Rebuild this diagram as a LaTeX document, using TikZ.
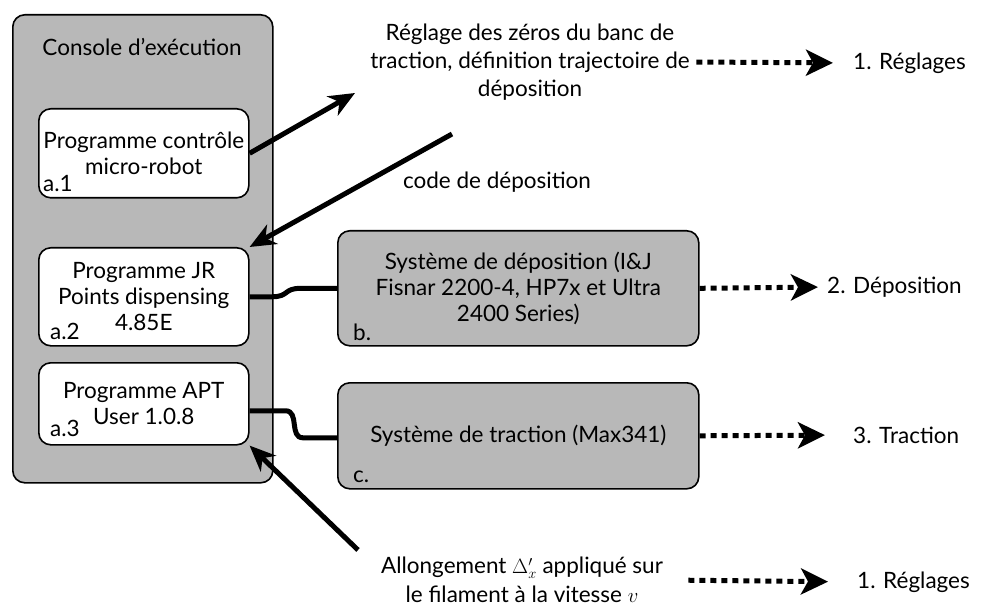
\documentclass[tikz,border=0pt]{standalone}
\usepackage{fontspec}
\setmainfont{Lato}
\usetikzlibrary{arrows.meta,positioning}
\definecolor{panelgray}{rgb}{0.72,0.72,0.72}

\begin{document}
\begin{tikzpicture}[x=1pt, y=-1pt, font=\fontsize{22.5}{26}\selectfont]
    \tikzstyle{panel}=[rectangle, rounded corners=12pt, draw=black, line width=1.6pt, fill=panelgray]
    \tikzstyle{prog}=[rectangle, rounded corners=12pt, draw=black, line width=1.6pt, fill=white, minimum width=210pt, align=center, inner sep=0pt]
    \tikzstyle{device}=[panel, minimum width=361pt, align=center]
    \tikzstyle{tag}=[anchor=base west, inner sep=0pt]
    \tikzstyle{phase}=[anchor=west, inner sep=0pt]
    \tikzstyle{connect}=[-{Stealth[length=26pt, width=22pt, inset=8pt]}, line width=5pt]
    \tikzstyle{dotconnect}=[-{Stealth[length=27pt, width=26pt, inset=7pt]}, line width=5pt, dash pattern=on 6pt off 5pt]
    \tikzstyle{cable}=[line width=5pt]

    \useasboundingbox (0,0) rectangle (996,612);

      % console with the three programs
      \node[panel, minimum width=260pt, minimum height=468pt, anchor=north west] (console) at (12,14) {};
      \node (consoletitle) at (142,47) {Console d'exécution};
      \node[prog, minimum height=89pt, anchor=north west] (prog1) at (38,108) {Programme contrôle\\micro-robot};
      \node[prog, minimum height=98pt, anchor=north west] (prog2) at (38,247) {Programme JR\\Points dispensing\\4.85E};
      \node[prog, minimum height=82pt, anchor=north west] (prog3) at (38,362) {Programme APT\\User 1.0.8};
      \node[tag] (tag1) at ([xshift=5pt, yshift=7pt]prog1.south west) {a.1};
      \node[tag] (tag2) at ([xshift=12pt, yshift=7pt]prog2.south west) {a.2};
      \node[tag] (tag3) at ([xshift=12pt, yshift=9pt]prog3.south west) {a.3};

      % devices
      \node[device, minimum height=115pt, anchor=north west] (depot) at (337,230) {Système de déposition (I\&J\\Fisnar 2200-4, HP7x et Ultra\\2400 Series)};
      \node[device, minimum height=106pt, anchor=north west] (traction) at (337,382) {Système de traction (Max341)};
      \node[tag] (tagb) at ([xshift=16pt, yshift=6pt]depot.south west) {b.};
      \node[tag] (tagc) at ([xshift=16pt, yshift=7pt]traction.south west) {c.};

      % texts
      \node[align=center, font=\fontsize{22.5}{28}\selectfont] (reglagetext) at (530,62) {Réglage des zéros du banc de\\traction, définition trajectoire de\\déposition};
      \node (codetext) at (497,182) {code de déposition};
      \node[align=center, font=\fontsize{22.5}{29}\selectfont] (allongtext) at (522,580) {Allongement $\Delta'_x$ appliqué sur\\le filament à la vitesse $v$};
      \node[phase] (phase1) at (853,63) {1. Réglages};
      \node[phase] (phase2) at (827,287) {2. Déposition};
      \node[phase] (phase3) at (853,435) {3. Traction};
      \node[phase] (phase4) at (857,582) {1. Réglages};

      \coordinate (reglhead) at (355,93);
      \coordinate (codetail) at (452,134);
      \coordinate (allongtail) at (358,550);

      \path
        (prog1.east) edge [connect] (reglhead)
        (codetail) edge [connect] (prog2.north east)
        (allongtail) edge [connect] (prog3.south east)
        (reglagetext.east) edge [dotconnect, shorten <=3pt, shorten >=20pt] (phase1.west)
        (depot.east) edge [dotconnect, shorten >=9pt] (phase2.west)
        (traction.east) edge [dotconnect, shorten >=28pt] (phase3.west)
        (allongtext.east) edge [dotconnect, shorten <=22pt, shorten >=29pt] (phase4.west);

      \draw[cable] (prog2.east) -- ++(22,0) .. controls +(18,0) and +(-18,0) .. ([xshift=-36pt]depot.west) -- (depot.west);
      \draw[cable] ([yshift=-7pt]prog3.east) -- ++(36,0) .. controls +(14,0) and +(-14,0) .. ([xshift=-34pt, yshift=-2pt]traction.west) -- ([yshift=-2pt]traction.west);
    \end{tikzpicture}
\end{document}
